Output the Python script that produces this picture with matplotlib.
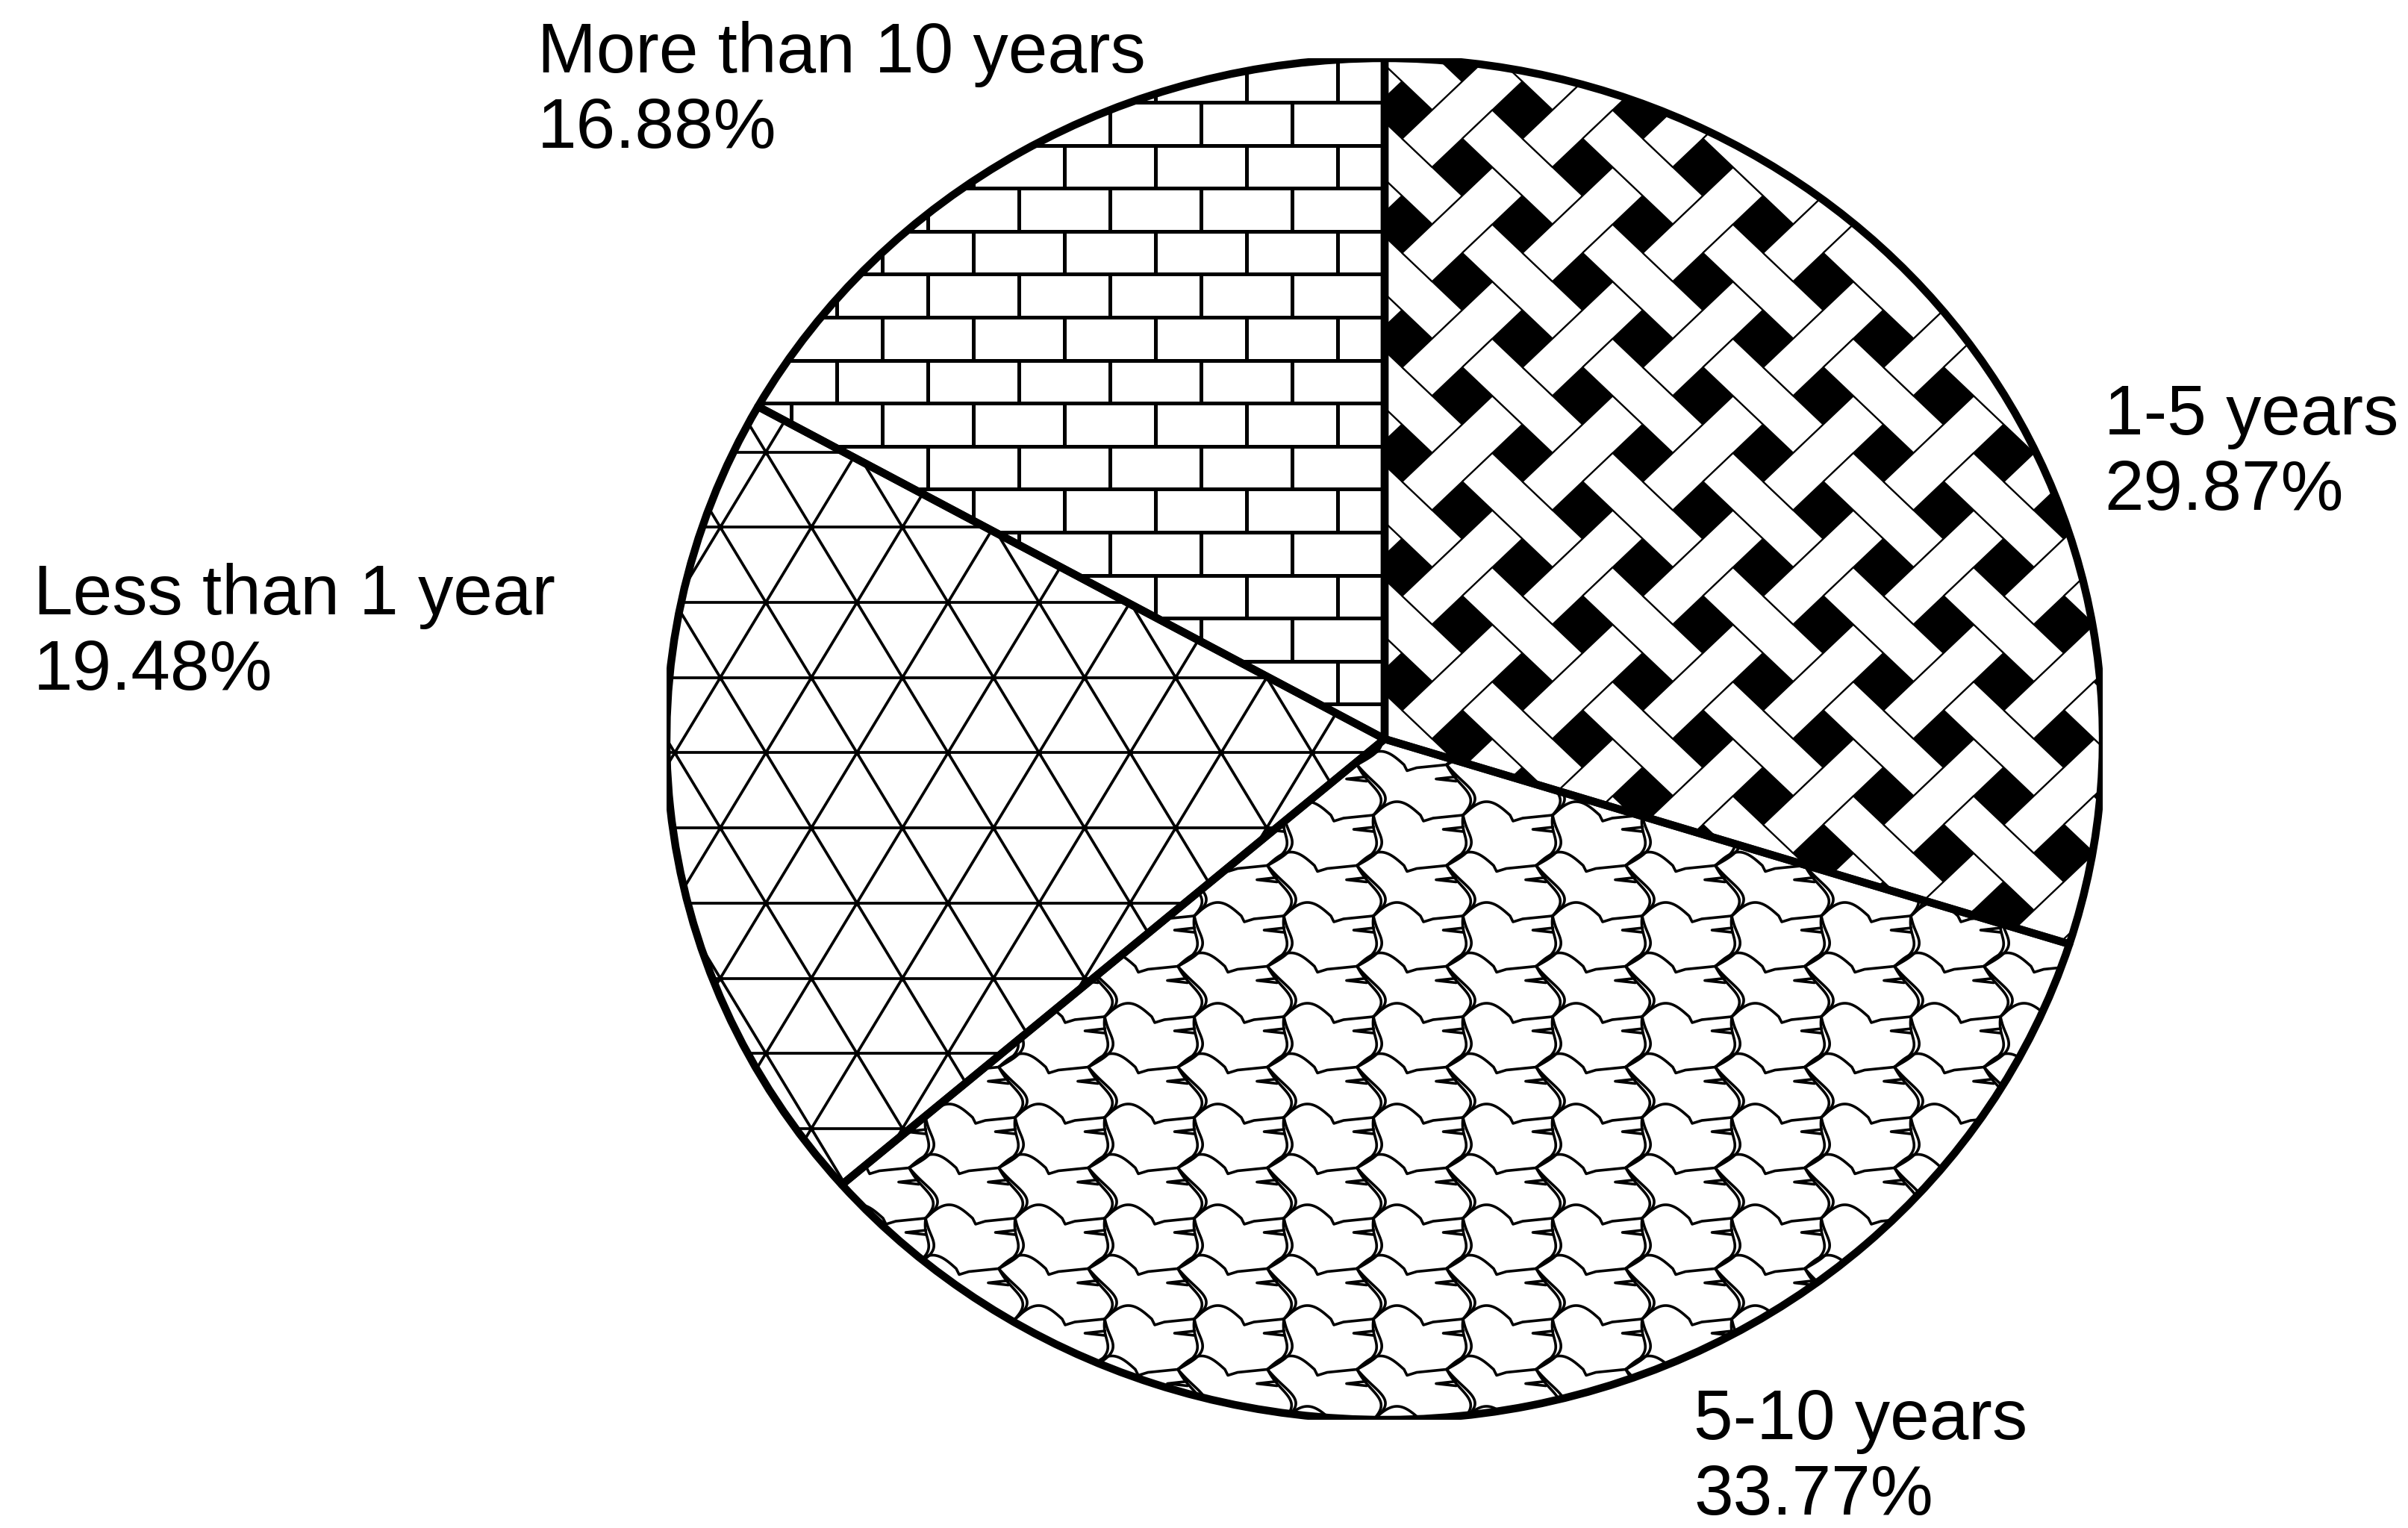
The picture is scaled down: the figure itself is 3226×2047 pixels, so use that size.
import numpy as np
import matplotlib
matplotlib.use("Agg")
import matplotlib.pyplot as plt
from matplotlib.collections import LineCollection, PolyCollection
from matplotlib.patches import Wedge

# data (clockwise from 12 o'clock)
labels = ["1-5 years", "5-10 years", "Less than 1 year", "More than 10 years"]
shares = [29.87, 33.77, 19.48, 16.88]
pct_labels = ["29.87%", "33.77%", "19.48%", "16.88%"]

# layout in image pixels (y down)
W, H = 3226, 2047
CX, CY, RX, RY = 1855, 990, 962, 912
label_xy = [(2819, 582), (2269, 1928), (45, 823), (720, 97)]
LINE_GAP = 101
FONT = "Liberation Sans"
FSIZE = 68

fig = plt.figure(figsize=(W / 100, H / 100), dpi=100)
ax = fig.add_axes([(CX - RX) / W, 1 - (CY + RY) / H, 2 * RX / W, 2 * RY / H])
wedges, _ = ax.pie(shares, startangle=90, counterclock=False,
                   colors=["black", "white", "white", "white"],
                   wedgeprops=dict(linewidth=0))
ax.set_aspect("auto")
ax.set_xlim(-1, 1)
ax.set_ylim(-1, 1)
ax.axis("off")


def to_data(pts):
    pts = np.asarray(pts, dtype=float)
    return np.c_[(pts[:, 0] - CX) / RX, (CY - pts[:, 1]) / RY]


def add_lines(segs, patch, lw):
    lc = LineCollection([to_data(s) for s in segs], colors="black",
                        linewidths=lw, zorder=2, capstyle="round",
                        joinstyle="round")
    ax.add_collection(lc)
    lc.set_clip_path(patch)


# --- bricks (More than 10 years) ---
bw, bh, by0, bx0 = 122, 57.6, 137, 1487
segs = []
for j in range(-3, 33):
    y = by0 + bh * j
    segs.append([(800, y), (2900, y)])
    off = bx0 + (bw / 2 if j % 2 else 0)
    for m in range(-12, 12):
        x = off + bw * m
        segs.append([(x, y), (x, y + bh)])
add_lines(segs, wedges[3], 3.6)

# --- triangles (Less than 1 year) ---
tw, th, ty0, tx0 = 122, 100.7, 807, 1026
segs = []
for j in range(-10, 12):
    y = ty0 + th * j
    segs.append([(800, y), (2900, y)])
ya, yb = 0, 2047
for m in range(-30, 30):
    xb = tx0 + tw * m
    for sgn in (1, -1):
        segs.append([(xb + sgn * (ya - ty0) * (tw / 2) / th, ya),
                     (xb + sgn * (yb - ty0) * (tw / 2) / th, yb)])
add_lines(segs, wedges[2], 2.7)
nodes = []
for j in range(-10, 12):
    for m in range(-10, 20):
        nodes.append((tx0 + tw * m + (tw / 2 if j % 2 else 0), ty0 + th * j))
nd = to_data(nodes)
dots = ax.scatter(nd[:, 0], nd[:, 1], s=30, color="black", zorder=2, linewidths=0)
dots.set_clip_path(wedges[2])

# --- basket weave (1-5 years) ---
s, k = 57, 0.95
eu = np.array([1, k]) * s / np.sqrt(2)
ev = np.array([1, -k]) * s / np.sqrt(2)
O = np.array([1959, 224]) - 1.5 * (eu + ev)
polys = []
for a in range(-12, 20):
    for b in range(-12, 20):
        if (a + b) % 2 == 0:
            u0, u1, v0, v1 = 2 * a - 1, 2 * a + 2, 2 * b, 2 * b + 1
        else:
            u0, u1, v0, v1 = 2 * a, 2 * a + 1, 2 * b - 1, 2 * b + 2
        corners = [O + u * eu + v * ev for u, v in ((u0, v0), (u1, v0), (u1, v1), (u0, v1))]
        c = np.mean(corners, axis=0)
        if 1750 < c[0] < 2950 and -50 < c[1] < 1400:
            polys.append(to_data(corners))
pc = PolyCollection(polys, facecolors="white", edgecolors="black",
                    linewidths=1.6, zorder=2)
ax.add_collection(pc)
pc.set_clip_path(wedges[0])

# --- bird tessellation (5-10 years) ---
PW, PH = 120, 67.5          # junction spacing along a row, row spacing
JX0, JY0, JSHIFT = 1960, 1362, -22
tt = np.linspace(0, 1, 40)
segs = []
for r in range(-7, 10):
    y = JY0 + PH * r
    xoff = JX0 + (JSHIFT if r % 2 else 0)
    step = (0 if r % 2 else JSHIFT) - (JSHIFT if r % 2 else 0)
    for m in range(-14, 12):
        x = xoff + PW * m
        if not (950 < x < 2950):
            continue
        # upper edge: rounded back, pointed notch, run to next junction
        back = np.c_[x + 63 * tt, y - 18 * np.sin(np.pi * tt)]
        segs.append(np.r_[back, [[x + 67, y + 8], [x + 80, y + 4], [x + PW, y]]])
        # doubled S-curve down to the junction of the next row
        bx = x + step * tt + 15 * np.sin(np.pi * tt) - 5 * np.sin(2 * np.pi * tt)
        by = y + PH * tt
        segs.append(np.c_[bx, by])
        segs.append(np.c_[bx + 7 * np.sin(np.pi * tt), by])
        # tail spike pointing left
        i3 = 11
        sx, sy = bx[i3], by[i3]
        segs.append(np.array([[sx, sy - 3], [sx - 27, sy], [sx, sy + 3]]))
add_lines(segs, wedges[1], 2.6)

# wedge outlines on top
for w in wedges:
    ax.add_patch(Wedge(w.center, w.r, w.theta1, w.theta2, fill=False,
                       edgecolor="black", linewidth=7.5, zorder=5,
                       joinstyle="round"))

for (x, y), lab, pct in zip(label_xy, labels, pct_labels):
    fig.text(x / W, 1 - y / H, lab, fontsize=FSIZE, family=FONT,
             ha="left", va="baseline")
    fig.text(x / W, 1 - (y + LINE_GAP) / H, pct, fontsize=FSIZE, family=FONT,
             ha="left", va="baseline")

fig.savefig("out.png", dpi=100, facecolor="white")
